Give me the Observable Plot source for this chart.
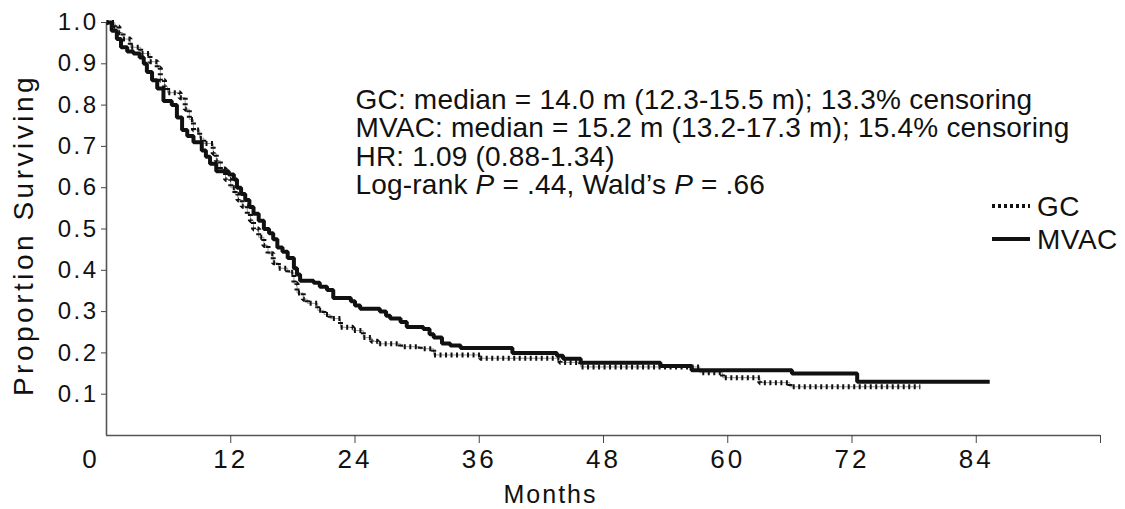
<!DOCTYPE html>
<html>
<head>
<meta charset="utf-8">
<script src="https://cdn.jsdelivr.net/npm/d3@7"></script>
<script src="https://cdn.jsdelivr.net/npm/@observablehq/plot@0.6"></script>
<style>
html, body { margin: 0; padding: 0; background: #fff; }
#chart svg { display: block; }
</style>
</head>
<body>
<div id="chart"></div>
<script>
// ---- data (months, proportion surviving) ----
const gcMonths = [0, 0.8, 1.2, 1.6, 2.3, 3.3, 4.2, 4.9, 5.2, 5.6, 5.9, 7.1, 7.6, 8.0, 8.4, 9.0, 9.4, 10.3, 10.6, 11.0, 11.5, 12.0, 12.4, 12.7, 13.1, 13.6, 13.9, 14.2, 14.7, 15.2, 15.6, 16.1, 16.6, 17.5, 18.1, 18.4, 19.0, 19.4, 20.4, 21.0, 21.6, 22.6, 23.8, 24.8, 25.6, 26.2, 28.4, 30.3, 31.6, 36.1, 43.8, 45.8, 57.3, 59.5, 63.1, 66.0, 78.6];
const gcSurv   = [1.0, 0.99, 0.975, 0.96, 0.94, 0.925, 0.905, 0.89, 0.86, 0.845, 0.83, 0.818, 0.79, 0.765, 0.74, 0.72, 0.707, 0.683, 0.665, 0.645, 0.62, 0.60, 0.585, 0.57, 0.555, 0.537, 0.52, 0.50, 0.48, 0.46, 0.44, 0.418, 0.405, 0.395, 0.368, 0.345, 0.33, 0.32, 0.303, 0.293, 0.283, 0.262, 0.254, 0.237, 0.228, 0.222, 0.215, 0.21, 0.195, 0.187, 0.177, 0.166, 0.152, 0.14, 0.128, 0.118, 0.118];

const mvacMonths = [0, 0.5, 1.0, 1.4, 2.0, 2.6, 3.2, 3.6, 3.9, 4.4, 4.9, 5.5, 6.3, 6.8, 7.3, 7.8, 8.4, 9.2, 9.6, 10.0, 10.6, 11.8, 12.3, 12.6, 13.0, 13.4, 13.8, 14.2, 14.7, 15.2, 15.7, 16.1, 16.5, 17.0, 17.5, 18.1, 18.4, 18.7, 20.0, 20.6, 21.3, 21.9, 23.6, 24.0, 24.5, 26.4, 27.0, 27.4, 28.4, 29.0, 30.6, 31.2, 31.6, 32.4, 33.2, 34.2, 39.2, 43.5, 44.1, 45.8, 53.5, 56.5, 66.2, 72.5, 85.3];
const mvacSurv   = [1.0, 0.98, 0.96, 0.94, 0.93, 0.925, 0.915, 0.90, 0.88, 0.86, 0.84, 0.81, 0.80, 0.77, 0.74, 0.725, 0.71, 0.69, 0.675, 0.658, 0.64, 0.632, 0.62, 0.60, 0.585, 0.57, 0.553, 0.537, 0.52, 0.50, 0.49, 0.475, 0.455, 0.445, 0.43, 0.405, 0.39, 0.375, 0.37, 0.36, 0.352, 0.333, 0.325, 0.315, 0.307, 0.30, 0.29, 0.283, 0.275, 0.263, 0.258, 0.245, 0.237, 0.223, 0.218, 0.212, 0.20, 0.193, 0.186, 0.176, 0.168, 0.158, 0.150, 0.13, 0.13];

const xTicks = [12, 24, 36, 48, 60, 72, 84, 96];
const xTickLabels = ["12", "24", "36", "48", "60", "72", "84", ""];
const yTicks = [0.1, 0.2, 0.3, 0.4, 0.5, 0.6, 0.7, 0.8, 0.9, 1.0];
const originLabel = ["0"];
const xLabel = ["Months"];
const yLabel = ["Proportion Surviving"];
const seriesNames = ["GC", "MVAC"];
const annotationLines = [
  "GC: median = 14.0 m (12.3-15.5 m); 13.3% censoring",
  "MVAC: median = 15.2 m (13.2-17.3 m); 15.4% censoring",
  "HR: 1.09 (0.88-1.34)",
  "Log-rank P = .44, Wald’s P = .66"
];

// ---- tables ----
const gc = gcMonths.map((m, i) => ({month: m, surv: gcSurv[i]}));
const mvac = mvacMonths.map((m, i) => ({month: m, surv: mvacSurv[i]}));

const FONT = "'Liberation Sans', Arial, Helvetica, sans-serif";
const INK = "#111";

const chart = Plot.plot({
  width: 1125,
  height: 509,
  marginLeft: 106,
  marginRight: 25,
  marginTop: 22,
  marginBottom: 74,
  style: {fontFamily: FONT, color: INK, background: "#fff"},
  x: {domain: [0, 96]},
  y: {domain: [0, 1]},
  marks: [
    // axis lines
    Plot.ruleY([0], {x1: 0, x2: 96, stroke: "#555", strokeWidth: 1.6}),
    Plot.ruleX([0], {y1: 0, y2: 1, stroke: "#555", strokeWidth: 1.6}),
    Plot.axisY({ticks: yTicks, tickSize: 5, tickPadding: 3, fontSize: 24, stroke: "#444",
      tickFormat: d3.format(".1f"), label: null}),
    Plot.axisX({ticks: xTicks, tickSize: 8, tickPadding: 6, fontSize: 26, stroke: "#444",
      tickFormat: d => xTickLabels[xTicks.indexOf(d)], label: null}),
    Plot.axisX([0], {tickSize: 0, tickPadding: 14, dx: -15.5, fontSize: 26,
      tickFormat: () => originLabel[0], label: null}),
    // GC: thin line plus censor-like dotted overlay
    Plot.line(gc, {x: "month", y: "surv", curve: "step-after", stroke: "#999", strokeWidth: 1}),
    Plot.line(gc, {x: "month", y: "surv", curve: "step-after", stroke: "#111", strokeWidth: 5,
      strokeDasharray: "2,3.5", strokeLinecap: "butt", strokeLinejoin: "miter"}),
    // MVAC: thick solid
    Plot.line(mvac, {x: "month", y: "surv", curve: "step-after", stroke: "#111", strokeWidth: 4,
      strokeLinecap: "butt", strokeLinejoin: "miter"}),
    // annotation
    Plot.text([annotationLines.join("\n")], {frameAnchor: "top-left", textAnchor: "start",
      lineAnchor: "top", dx: 249, dy: 66, fontSize: 28, lineHeight: 1.018, fill: INK}),
    // axis titles
    Plot.text(xLabel, {frameAnchor: "bottom", textAnchor: "middle", lineAnchor: "top", dx: -53, dy: 50,
      fontSize: 25, fill: INK}),
    Plot.text(yLabel, {frameAnchor: "left", textAnchor: "middle", rotate: -90, dx: -82, dy: 6,
      fontSize: 28, fill: INK})
  ]
});

// ---- post-processing: letter spacing (the reference type is wide) and italic P ----
const yTickSet = new Set(yTicks.map(d3.format(".1f")));
const xTickSet = new Set(xTickLabels.concat(originLabel).filter(s => s));
chart.querySelectorAll("text").forEach(t => {
  const s = t.textContent;
  if (yTickSet.has(s)) t.style.letterSpacing = "2.5px";
  else if (xTickSet.has(s)) t.style.letterSpacing = "3px";
  else if (s === xLabel[0]) t.style.letterSpacing = "2px";
  else if (s === yLabel[0]) t.style.letterSpacing = "3.5px";
  else if (s.includes("median")) t.style.letterSpacing = "0.2px";
});
chart.querySelectorAll("tspan, text").forEach(t => {
  if (t.childNodes.length === 1 && t.firstChild.nodeType === 3 && t.textContent.startsWith("Log-rank")) {
    const parts = t.textContent.split("P");
    t.textContent = "";
    parts.forEach((p, i) => {
      t.appendChild(document.createTextNode(p));
      if (i < parts.length - 1) {
        const it = document.createElementNS("http://www.w3.org/2000/svg", "tspan");
        it.setAttribute("font-style", "italic");
        it.textContent = "P";
        t.appendChild(it);
      }
    });
  }
});

// legend
const svg = d3.select(chart);
const lg = svg.append("g")
  .attr("font-family", FONT).attr("font-size", 28).attr("fill", INK)
  .style("letter-spacing", "0.5px");
seriesNames.forEach((name, i) => {
  const y = 206 + i * 33;
  lg.append("line").attr("x1", 992).attr("x2", 1030).attr("y1", y).attr("y2", y)
    .attr("stroke", "#111")
    .attr("stroke-width", 4)
    .attr("stroke-dasharray", i === 0 ? "3,3" : null);
  lg.append("text").attr("x", 1037).attr("y", y).attr("dy", "0.35em")
    .attr("text-anchor", "start").text(name);
});

document.getElementById("chart").appendChild(chart);
</script>
</body>
</html>
